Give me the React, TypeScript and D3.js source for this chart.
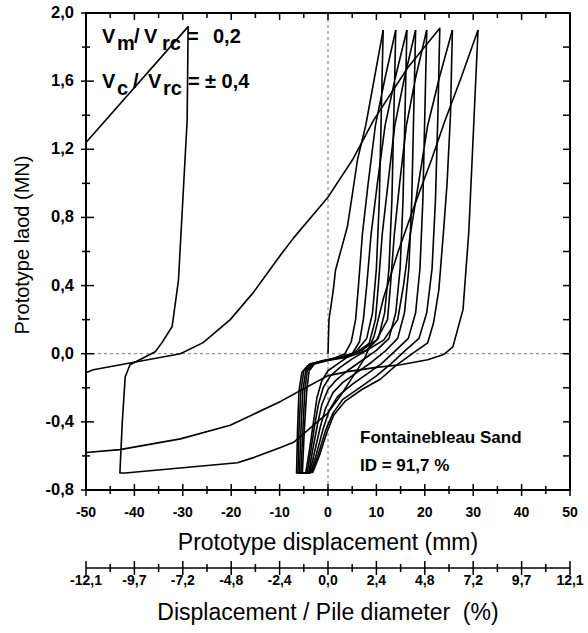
import React from 'react';
import * as d3 from 'd3';

// ---------- axis / tick data ----------
const xMajor = [-50, -40, -30, -20, -10, 0, 10, 20, 30, 40, 50];
const xMinor = [-45, -35, -25, -15, -5, 5, 15, 25, 35, 45];
const yMajor = [-0.8, -0.4, 0, 0.4, 0.8, 1.2, 1.6, 2.0];
const yMinor = [-0.6, -0.2, 0.2, 0.6, 1.0, 1.4, 1.8];
const ratioLabels = ['-12,1', '-9,7', '-7,2', '-4,8', '-2,4', '0,0', '2,4', '4,8', '7,2', '9,7', '12,1'];

// ---------- curve data: [displacement mm, load MN] ----------
const firstLoad: [number, number][] = [
  [0, 0], [0.2, 0.2], [1.1, 0.375], [1.55, 0.49], [2.8, 0.62], [4.0, 0.745], [5.0, 0.93],
  [6.1, 1.14], [7.8, 1.34], [9.6, 1.62], [11.4, 1.9],
];
const cycle1: [number, number][] = [
  [11.4, 1.9], [11.0, 1.4], [10.6, 0.9], [10.0, 0.5], [9.2, 0.24], [8.0, 0.09], [6.0, 0.02], [4, -0.02],
  [2, -0.06], [0, -0.1], [-1.3, -0.16], [-2.3, -0.26], [-3.0, -0.4], [-3.8, -0.56], [-4.6, -0.7],
  [-6.5, -0.7], [-6.3, -0.45], [-6.0, -0.22], [-5.4, -0.11], [-4.2, -0.07], [-2, -0.05], [1, -0.03],
  [3.5, 0.0], [4.8, 0.07], [5.7, 0.2], [6.3, 0.4], [7.1, 0.7], [8.3, 1.0], [9.8, 1.34], [11.8, 1.62], [14.0, 1.9],
];
const cycle2: [number, number][] = [
  [14.0, 1.9], [13.6, 1.4], [13.2, 0.9], [12.6, 0.5], [11.7, 0.24], [10.4, 0.09], [8, 0.02], [5, -0.03],
  [2.5, -0.08], [0.5, -0.13], [-1, -0.2], [-2, -0.3], [-2.7, -0.41], [-3.5, -0.56], [-4.3, -0.7],
  [-6.2, -0.7], [-6.0, -0.45], [-5.6, -0.22], [-5.0, -0.1], [-3.8, -0.06], [-1.5, -0.045], [2, -0.025],
  [5, 0.0], [6.5, 0.07], [7.3, 0.2], [8.0, 0.4], [8.9, 0.7], [10.2, 1.0], [11.8, 1.34], [13.9, 1.62], [16.3, 1.9],
];
const cycle3: [number, number][] = [
  [16.3, 1.9], [15.9, 1.4], [15.5, 0.9], [14.9, 0.5], [14.0, 0.24], [12.6, 0.09], [10, 0.02], [7, -0.04],
  [4, -0.1], [1.5, -0.16], [0, -0.21], [-1.3, -0.3], [-2.2, -0.42], [-3.2, -0.57], [-4.0, -0.7],
  [-5.9, -0.7], [-5.6, -0.45], [-5.2, -0.22], [-4.6, -0.1], [-3.5, -0.06], [-1, -0.04], [2.5, -0.02],
  [6, 0.01], [8.5, 0.06], [9.8, 0.2], [10.4, 0.4], [11.2, 0.7], [12.4, 1.0], [13.8, 1.34], [15.8, 1.62], [18.1, 1.9],
];
const cycle4: [number, number][] = [
  [18.1, 1.9], [17.7, 1.4], [17.3, 0.9], [16.7, 0.5], [15.8, 0.24], [14.4, 0.09], [12, 0.02], [9, -0.05],
  [6, -0.11], [3, -0.17], [1, -0.23], [-0.5, -0.32], [-1.6, -0.43], [-2.8, -0.58], [-3.8, -0.7],
  [-5.6, -0.7], [-5.2, -0.45], [-4.8, -0.22], [-4.3, -0.1], [-3.1, -0.06], [-0.5, -0.04], [3, -0.02],
  [7, 0.02], [10, 0.08], [12.3, 0.2], [12.9, 0.4], [13.7, 0.7], [14.8, 1.0], [16.2, 1.34], [18.1, 1.62], [20.4, 1.9],
];
const cycle5: [number, number][] = [
  [20.4, 1.9], [20.0, 1.4], [19.6, 0.9], [19.0, 0.5], [18.1, 0.24], [16.6, 0.09], [14, 0.02], [11, -0.06],
  [8, -0.12], [5, -0.18], [2, -0.25], [0.3, -0.33], [-1, -0.44], [-2.4, -0.59], [-3.6, -0.7],
  [-5.3, -0.7], [-4.9, -0.45], [-4.4, -0.22], [-3.9, -0.1], [-2.8, -0.06], [0, -0.04], [4, -0.02],
  [8, 0.02], [11.5, 0.08], [14.4, 0.2], [15.6, 0.4], [17.0, 0.7], [18.7, 1.0], [20.6, 1.34], [23.0, 1.62], [25.7, 1.9],
];
const cycle6: [number, number][] = [
  [25.7, 1.9], [25.3, 1.4], [24.6, 1.0], [23.9, 0.73], [22.9, 0.375], [21.8, 0.18], [20.6, 0.064], [17.7, 0.006],
  [14, -0.07], [10.8, -0.15], [7, -0.21], [3.5, -0.28], [1.2, -0.36], [-0.2, -0.46], [-1.8, -0.6], [-3.2, -0.7],
];
const curveA: [number, number][] = [
  [-50, 1.24], [-28.9, 1.92], [-29.1, 1.37], [-30.9, 0.43], [-32.2, 0.16], [-34.3, 0.065], [-35.7, 0.012],
  [-40.9, -0.065], [-41.9, -0.135], [-42.5, -0.4], [-43.0, -0.7], [-41.9, -0.7], [-18.7, -0.64], [-15.4, -0.61],
  [-9.8, -0.55], [-7.1, -0.52], [-2.2, -0.4], [-0.1, -0.35], [2.5, -0.25], [5, -0.14], [7.5, -0.03], [9.5, 0.1],
  [11.5, 0.33], [14.5, 0.6], [18, 0.88], [21.4, 1.14], [24.2, 1.37], [27.5, 1.62], [31.0, 1.9],
];
const curveB: [number, number][] = [
  [-49.9, -0.11], [-48.5, -0.094], [-30.5, 0.0], [-25.8, 0.065], [-20.2, 0.2], [-15.4, 0.36], [-9.8, 0.58],
  [-7.1, 0.68], [-0.1, 0.915], [5.1, 1.14], [9.4, 1.37], [16.5, 1.68], [23.1, 1.91],
  [22.7, 1.4], [22.2, 0.9], [21.5, 0.5], [20.4, 0.24], [18.8, 0.09], [16, 0.02], [13, -0.06],
  [10, -0.13], [6.5, -0.2], [3, -0.27], [1, -0.35], [-0.5, -0.45], [-2.0, -0.59], [-3.4, -0.7],
];
const curveC: [number, number][] = [
  [-50, -0.58], [-43, -0.563], [-30.5, -0.5], [-20.2, -0.42], [-9.8, -0.28], [-5.3, -0.21], [-0.1, -0.13],
  [4, -0.105], [10, -0.08], [15, -0.065], [20.6, -0.035], [23.9, -0.005], [25.8, 0.04], [27.9, 0.26],
  [29.1, 0.72], [30.1, 1.34], [31.0, 1.9],
];

const curves = [firstLoad, cycle1, cycle2, cycle3, cycle4, cycle5, cycle6, curveA, curveB, curveC];

const FONT = 'Liberation Sans, Arial, Helvetica, sans-serif';

export default function App() {
  const x = d3.scaleLinear().domain([-50, 50]).range([86, 570]);
  const y = d3.scaleLinear().domain([-0.8, 2.0]).range([490, 13]);
  const line = d3.line<[number, number]>().x((d) => x(d[0])).y((d) => y(d[1]));
  const fmtY = (v: number) => v.toFixed(1).replace('.', ',');
  const x0 = x(-50), x1 = x(50), yTop = y(2.0), yBot = y(-0.8);
  const y2 = 568;

  return (
    <svg width={588} height={633} style={{ position: 'absolute', left: 0, top: 0, background: '#fff' }}
      fontFamily={FONT}>
      <rect x={0} y={0} width={588} height={633} fill="#fff" />
      {/* zero reference lines */}
      <line x1={x0} x2={x1} y1={y(0)} y2={y(0)} stroke="#777" strokeWidth={1} strokeDasharray="3,3" />
      <line x1={x(0)} x2={x(0)} y1={yTop} y2={yBot} stroke="#777" strokeWidth={1} strokeDasharray="3,3" />

      {/* curves */}
      <g fill="none" stroke="#000" strokeWidth={1.6} strokeLinejoin="round">
        {curves.map((c, i) => <path key={i} d={line(c) || ''} />)}
      </g>

      {/* frame */}
      <rect x={x0} y={yTop} width={x1 - x0} height={yBot - yTop} fill="none" stroke="#000" strokeWidth={2} />

      {/* bottom axis ticks */}
      {xMajor.map((v) => <line key={'bM' + v} x1={x(v)} x2={x(v)} y1={yBot - 6} y2={yBot + 6} stroke="#000" strokeWidth={1.5} />)}
      {xMinor.map((v) => <line key={'bm' + v} x1={x(v)} x2={x(v)} y1={yBot - 4} y2={yBot + 4} stroke="#000" strokeWidth={1.5} />)}
      {xMajor.map((v) => (
        <text key={'bl' + v} x={x(v)} y={517} textAnchor="middle" fontSize={14} fontWeight="bold">{String(v)}</text>
      ))}
      {/* top axis ticks */}
      {xMajor.map((v) => <line key={'tM' + v} x1={x(v)} x2={x(v)} y1={yTop} y2={yTop + 7} stroke="#000" strokeWidth={1.5} />)}
      {xMinor.map((v) => <line key={'tm' + v} x1={x(v)} x2={x(v)} y1={yTop} y2={yTop + 5} stroke="#000" strokeWidth={1.5} />)}
      {/* left axis ticks */}
      {yMajor.map((v) => <line key={'lM' + v} x1={x0 - 5} x2={x0 + 8} y1={y(v)} y2={y(v)} stroke="#000" strokeWidth={1.5} />)}
      {yMinor.map((v) => <line key={'lm' + v} x1={x0 - 4} x2={x0 + 4} y1={y(v)} y2={y(v)} stroke="#000" strokeWidth={1.5} />)}
      {yMajor.map((v) => (
        <text key={'ll' + v} x={74} y={y(v) + 5} textAnchor="end" fontSize={16.5} fontWeight="bold">{fmtY(v)}</text>
      ))}
      {/* right axis ticks */}
      {yMajor.concat(yMinor).map((v) => <line key={'r' + v} x1={x1 - 7} x2={x1} y1={y(v)} y2={y(v)} stroke="#000" strokeWidth={1.5} />)}

      {/* secondary axis */}
      <line x1={x0} x2={x1} y1={y2} y2={y2} stroke="#000" strokeWidth={1.5} />
      {xMajor.map((v) => <line key={'sM' + v} x1={x(v)} x2={x(v)} y1={y2 - 7} y2={y2 + 7} stroke="#000" strokeWidth={1.5} />)}
      {xMinor.map((v) => <line key={'sm' + v} x1={x(v)} x2={x(v)} y1={y2 - 4} y2={y2 + 4} stroke="#000" strokeWidth={1.5} />)}
      {xMajor.map((v, i) => (
        <text key={'sl' + v} x={x(v)} y={585} textAnchor="middle" fontSize={14} fontWeight="bold">{ratioLabels[i]}</text>
      ))}

      {/* axis titles */}
      <text x={(x0 + x1) / 2} y={550} textAnchor="middle" fontSize={23}>Prototype displacement (mm)</text>
      <text x={(x0 + x1) / 2} y={620} textAnchor="middle" fontSize={23} style={{ whiteSpace: 'pre' }}>
        {'Displacement / Pile diameter  (%)'}
      </text>
      <text transform={`translate(29, 245) rotate(-90)`} textAnchor="middle" fontSize={20}>Prototype laod (MN)</text>

      {/* annotations */}
      <g fontSize={20} fontWeight="bold">
        <text x={102} y={43}>V</text>
        <text x={117} y={50}>m</text>
        <text x={134} y={43}>/</text>
        <text x={144} y={43}>V</text>
        <text x={162} y={50}>rc</text>
        <text x={187} y={43}>=</text>
        <text x={213} y={43}>0,2</text>
        <text x={102} y={88}>V</text>
        <text x={117} y={95}>c</text>
        <text x={133} y={88}>/</text>
        <text x={148} y={88}>V</text>
        <text x={163} y={95}>rc</text>
        <text x={188} y={88}>=</text>
        <text x={205} y={88}>± 0,4</text>
      </g>
      <g fontSize={17} fontWeight="bold">
        <text x={360} y={443}>Fontainebleau Sand</text>
        <text x={360} y={471}>ID = 91,7 %</text>
      </g>
    </svg>
  );
}
